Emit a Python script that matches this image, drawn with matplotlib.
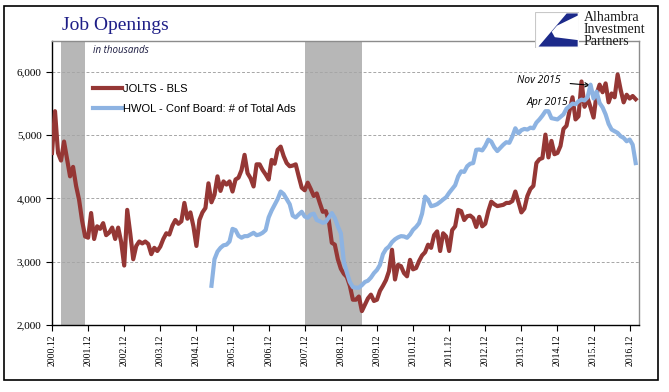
import numpy as np
import matplotlib
matplotlib.use("Agg")
import matplotlib.pyplot as plt
from matplotlib.patches import Rectangle, Polygon

# monthly values, first point = Dec 2000 (thousands)
jolts = [
    4720, 5380, 4720, 4600, 4900, 4620, 4350, 4500, 4200, 3980, 3650, 3400,
    3380, 3770, 3360, 3560, 3520, 3610, 3420, 3460, 3540, 3360, 3540, 3310,
    2940, 3820, 3450, 3040, 3250, 3320, 3290, 3320, 3280, 3120, 3220, 3170,
    3240, 3360, 3450, 3430, 3570, 3660, 3600, 3640, 3930, 3680, 3780, 3560,
    3250, 3660, 3780, 3850, 4240, 3940, 4060, 4350, 4120, 4270, 4220, 4270,
    4110, 4300, 4330, 4450, 4690, 4400, 4320, 4190, 4540, 4540, 4450, 4380,
    4300, 4610, 4550, 4770, 4820, 4670, 4560, 4510, 4520, 4540, 4350, 4170,
    4130, 4250, 4150, 4040, 4080, 3930, 3790, 3800, 3650, 3300, 3270, 3040,
    2890, 2810, 2760, 2620, 2400, 2400, 2450, 2220, 2320, 2420, 2480, 2380,
    2400, 2540, 2620, 2710, 2850, 3190, 2720, 2950, 2930, 2820, 2770, 3030,
    2880, 2900, 3010, 3100, 3150, 3270, 3220, 3420, 3480, 3170, 3450, 3400,
    3170, 3500, 3560, 3820, 3800, 3660, 3720, 3730, 3690, 3550, 3710, 3560,
    3600, 3800, 3950, 3910, 3880, 3890, 3900, 3930, 3930, 3960, 4110, 3950,
    3780, 3840, 4040, 4150, 4200, 4560, 4620, 4640, 5010, 4650, 4910, 4700,
    4720, 4830, 5100, 5150, 5380, 5600, 5250, 5300, 5850, 5450, 5590, 5440,
    5280, 5650, 5800, 5680, 5820, 5520, 5660, 5600, 5960, 5720, 5520, 5640,
    5580, 5620, 5570,
]

# HWOL starts May 2005 (month 53)
hwol_start = 53
hwol = [
    2620, 3040, 3160, 3220, 3260, 3270, 3320, 3520, 3500, 3410, 3380,
    3405, 3405, 3432, 3458, 3420, 3432, 3458, 3500, 3700, 3810, 3900, 3990,
    4110, 4070, 3990, 3910, 3730, 3700, 3747, 3790, 3715, 3695, 3745, 3760,
    3660, 3640, 3616, 3630, 3700, 3770, 3690, 3560, 3450, 3000, 2830, 2680,
    2600, 2590, 2590, 2630, 2680, 2700, 2750, 2820, 2870, 2950, 3120, 3200,
    3240, 3310, 3355, 3385, 3405, 3400, 3379, 3430, 3505, 3550, 3610, 3760,
    4030, 3980, 3879, 3890, 3910, 3945, 3984, 4020, 4090, 4150, 4210, 4350,
    4430, 4420, 4510, 4550, 4560, 4770, 4775, 4760, 4830, 4930, 4900, 4810,
    4750, 4800, 4850, 4890, 4880, 4980, 5110, 5030, 5080, 5100, 5090, 5120,
    5110, 5200, 5250, 5310, 5380, 5380, 5270, 5260, 5250, 5290, 5330, 5420,
    5460, 5500, 5490, 5537, 5563, 5550, 5600, 5800, 5580, 5690, 5510, 5440,
    5330, 5180, 5090, 5063, 5037, 4984, 4958, 4905, 4932, 4850, 4560,
]

tick_labels = [f"{y}.12" for y in range(2000, 2017)]
recessions = [(3, 11), (84, 103)]   # month offsets from Dec 2000

RED = "#953735"
BLUE = "#8DB3E2"
W, H = 669, 392

fig = plt.figure(figsize=(W / 100, H / 100), dpi=100)
ax = fig.add_axes([52 / W, 1 - 325 / H, (639 - 52) / W, (325 - 41) / H])

for a, b in recessions:
    ax.axvspan(a, b, color="#B7B7B7", lw=0, zorder=0)

x_j = np.arange(len(jolts))
x_h = np.arange(len(hwol)) + hwol_start
ax.plot(x_j, jolts, color=RED, lw=3, label="JOLTS - BLS", zorder=3,
        solid_joinstyle="round")
ax.plot(x_h, hwol, color=BLUE, lw=3, label="HWOL - Conf Board: # of Total Ads",
        zorder=4, solid_joinstyle="round")

ax.set_xlim(0, 195.1)
ax.set_ylim(2000, 6490)
ax.set_yticks([2000, 3000, 4000, 5000, 6000])
ax.set_yticklabels([f"{v:,}" for v in [2000, 3000, 4000, 5000, 6000]],
                   family="Liberation Serif", fontsize=8)
ax.set_xticks(np.arange(0, 193, 12))
ax.set_xticklabels(tick_labels, rotation=90, family="Liberation Serif",
                   fontsize=7)
ax.tick_params(axis="both", direction="out", length=4, width=0.8, color="black")
ax.tick_params(axis="x", pad=3)
ax.yaxis.grid(True, ls=(0, (3, 2)), color="#A6A6A6", lw=0.7)
ax.set_axisbelow(True)

for s in ["left", "bottom"]:
    ax.spines[s].set_color("black")
    ax.spines[s].set_linewidth(1)
for s in ["top", "right"]:
    ax.spines[s].set_color("#8C8C8C")
    ax.spines[s].set_linewidth(1)

leg = ax.legend(loc="upper left", bbox_to_anchor=(0.07, 0.85), frameon=False,
                borderpad=0, borderaxespad=0, handlelength=2.6,
                handletextpad=0.1, labelspacing=0.9,
                prop={"family": "Liberation Sans", "size": 8})

ax.text(0.07, 0.985, "in thousands", transform=ax.transAxes, fontsize=7,
        style="italic", family="Open Sans", color="#1a1a40", va="top")

ax.annotate("Nov 2015", xy=(178.9, 5790), xytext=(169, 5860),
            fontsize=7.5, style="italic", family="Open Sans", ha="right",
            va="center",
            arrowprops=dict(arrowstyle="->", color="black", lw=0.8,
                            shrinkA=5, shrinkB=0))
ax.text(171.5, 5525, "Apr 2015", fontsize=7.5, style="italic",
        family="Open Sans", ha="right", va="center")

fig.text(62 / W, 1 - 26 / H, "Job Openings", fontsize=14,
         family="Liberation Serif", color="#1E1E87", va="center")

# logo
lax = fig.add_axes([535 / W, 1 - 48 / H, 44 / W, 36 / H])
lax.set_xlim(0, 1)
lax.set_ylim(0, 1)
lax.axis("off")
lax.add_patch(Rectangle((0, 0), 1, 1, fc="white", ec="#C8C8C8", lw=0.8))
lax.add_patch(Polygon([(0.72, 0.96), (0.97, 0.96), (0.97, 0.9), (0.5, 0.62),
                       (0.38, 0.45), (0.45, 0.3), (0.97, 0.22), (0.97, 0.04),
                       (0.08, 0.04)], closed=True, fc="#1C2A8A", ec="none"))
fig.text(584 / W, 1 - 11 / H, "Alhambra\nInvestment\nPartners", fontsize=10,
         family="Liberation Serif", color="#1a1a1a", va="top",
         linespacing=0.88)

fig.patches.append(Rectangle((4 / W, 1 - 380 / H), 654 / W, 374 / H,
                             transform=fig.transFigure, fill=False,
                             ec="black", lw=1.2))

fig.savefig("out.png", dpi=100)
